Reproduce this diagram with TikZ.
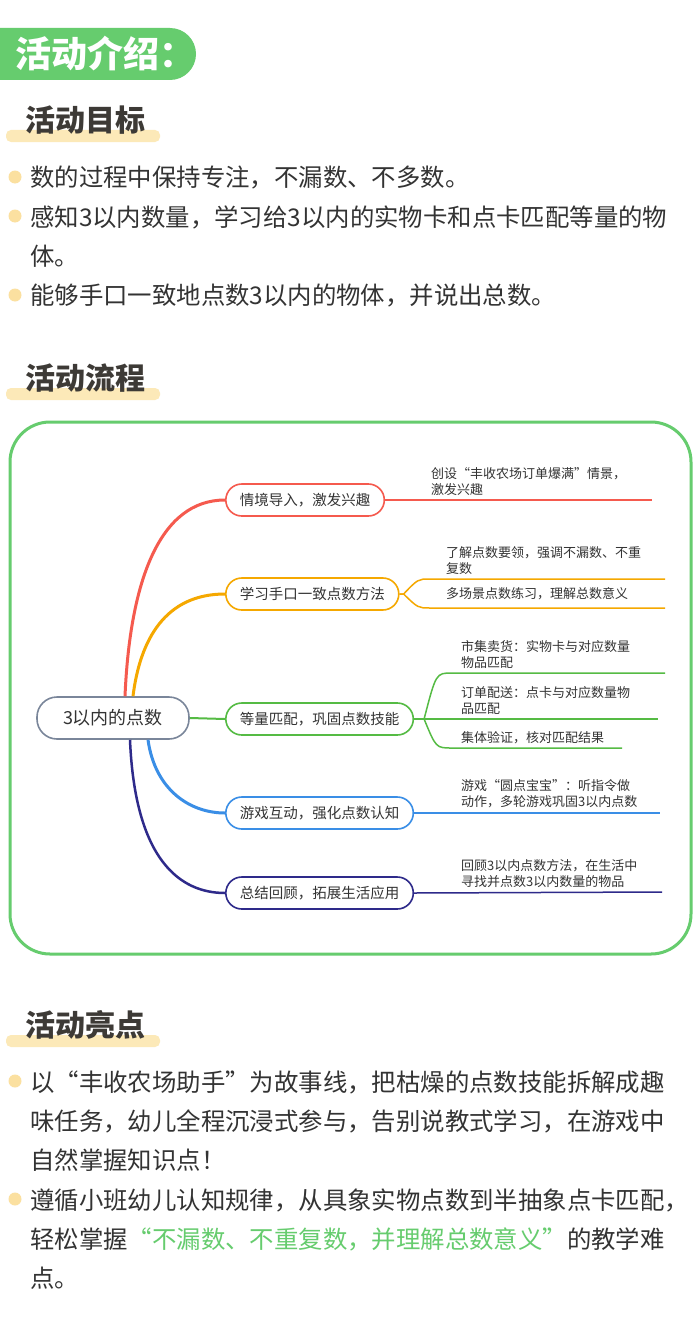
\documentclass[tikz,border=0pt]{standalone}
\usepackage{fontspec}
\setmainfont{Noto Sans CJK SC}
\begin{document}
\begin{tikzpicture}[x=1pt,y=-1pt,
  body/.style={anchor=west,font=\fontsize{24.4}{27}\selectfont,text=txt,inner sep=0pt},
  dot/.style={circle,fill=dotc,minimum size=13pt,inner sep=0pt},
  head/.style={anchor=west,font=\fontsize{30}{32}\selectfont\bfseries,text=headc,inner sep=0pt},
  bar/.style={fill=barc,rounded corners=5pt},
  br/.style={draw=#1,line width=1.6pt,rounded corners=16pt,minimum height=32pt,inner xsep=14pt,anchor=west,font=\fontsize{14.5}{16}\selectfont,text=txt},
  sub/.style={anchor=south west,font=\fontsize{13}{16}\selectfont,text=txt,align=left,inner sep=1pt},
  subm/.style={anchor=west,font=\fontsize{13}{16}\selectfont,text=txt,inner sep=1pt}]
\definecolor{txt}{HTML}{333333}
\definecolor{headc}{HTML}{3D3A36}
\definecolor{dotc}{HTML}{FBE0A0}
\definecolor{barc}{HTML}{FCE9B8}
\definecolor{grn}{HTML}{66CC6E}
\definecolor{cr}{HTML}{F55A4E}
\definecolor{co}{HTML}{F5A800}
\definecolor{cg}{HTML}{55BB44}
\definecolor{cb}{HTML}{3A8EE6}
\definecolor{cn}{HTML}{2E2A8A}
\definecolor{cc}{HTML}{7A869A}
\useasboundingbox (0,0) rectangle (700,1319);
\fill[white] (0,0) rectangle (700,1319);
% header
\fill[grn,rounded corners=26pt] (-40,28) rectangle (196,80);
\node[anchor=west,text=white,font=\fontsize{36}{38}\selectfont\bfseries,inner sep=0pt] (h0) at (15,54) {活动介绍：};
% section 1
\fill[bar] (6,130) rectangle (160,142);
\node[head] (h1) at (25,120) {活动目标};
\node[dot] (d1) at (15,177) {}; \node[body] (t1) at (30,178) {数的过程中保持专注，不漏数、不多数。};
\node[dot] (d2) at (15,216) {}; \node[body] (t2) at (30,217) {感知3以内数量，学习给3以内的实物卡和点卡匹配等量的物};
\node[body] (t2b) at (30,256) {体。};
\node[dot] (d3) at (15,295) {}; \node[body] (t3) at (30,296) {能够手口一致地点数3以内的物体，并说出总数。};
% section 2
\fill[bar] (6,388) rectangle (160,400);
\node[head] (h2) at (25,378) {活动流程};
\draw[grn,line width=3pt,rounded corners=40pt] (10,422) rectangle (691,954);
% mind map
\node[draw=cc,line width=1.6pt,rounded corners=20pt,minimum width=152pt,minimum height=42pt,font=\fontsize{18}{20}\selectfont,text=txt] (root) at (113,718) {3以内的点数};
\node[br=cr] (b1) at (225,500) {情境导入，激发兴趣};
\node[br=co] (b2) at (225,594) {学习手口一致点数方法};
\node[br=cg] (b3) at (225,719) {等量匹配，巩固点数技能};
\node[br=cb] (b4) at (225,813) {游戏互动，强化点数认知};
\node[br=cn] (b5) at (225,893) {总结回顾，拓展生活应用};
\draw[cr,line width=3pt] ([xshift=12pt]root.north) .. controls (130,580) and (160,500) .. (b1.west);
\draw[co,line width=3pt] ([xshift=20pt]root.north) .. controls (140,640) and (165,594) .. (b2.west);
\draw[cg,line width=2pt] (root.east) -- (b3.west);
\draw[cb,line width=3pt] ([xshift=35pt]root.south) .. controls (155,790) and (190,813) .. (b4.west);
\draw[cn,line width=2.5pt] ([xshift=17pt]root.south) .. controls (135,860) and (180,893) .. (b5.west);
% branch 1
\coordinate (e1) at (652,500);
\draw[cr,line width=1.5pt] (b1.east) -- (e1);
\node[sub] (s1) at (430,497) {创设“丰收农场订单爆满”情景，\\激发兴趣};
% branch 2
\coordinate (e2a) at (665,579); \coordinate (e2b) at (665,608);
\draw[co,line width=1.5pt] (b2.east) -- ++(4,0) .. controls (418,579) .. (430,579) -- (e2a);
\draw[co,line width=1.5pt] (b2.east) -- ++(4,0) .. controls (418,608) .. (430,608) -- (e2b);
\node[sub] (s2) at (445,576) {了解点数要领，强调不漏数、不重\\复数};
\node[subm] (s2b) at (445,594) {多场景点数练习，理解总数意义};
% branch 3
\coordinate (e3a) at (665,673); \coordinate (e3b) at (658,719); \coordinate (e3c) at (622,748);
\draw[cg,line width=1.5pt] (b3.east) -- (e3b);
\draw[cg,line width=1.5pt] (b3.east) -- ++(10,0) .. controls (436,673) .. (452,673) -- (e3a);
\draw[cg,line width=1.5pt] (b3.east) -- ++(10,0) .. controls (436,748) .. (452,748) -- (e3c);
\node[sub] (s3a) at (460,670) {市集卖货：实物卡与对应数量\\物品匹配};
\node[sub] (s3b) at (460,716) {订单配送：点卡与对应数量物\\品匹配};
\node[sub] (s3c) at (460,745) {集体验证，核对匹配结果};
% branch 4
\coordinate (e4) at (660,813);
\draw[cb,line width=1.5pt] (b4.east) -- (e4);
\node[sub] (s4) at (460,809) {游戏“圆点宝宝”：听指令做\\动作，多轮游戏巩固3以内点数};
% branch 5
\coordinate (e5) at (662,892);
\draw[cn,line width=1.5pt] (b5.east) -- (e5);
\node[sub] (s5) at (460,889) {回顾3以内点数方法，在生活中\\寻找并点数3以内数量的物品};
% section 3
\fill[bar] (6,1035) rectangle (160,1047);
\node[head] (h3) at (25,1025) {活动亮点};
\node[dot] (d4) at (15,1081) {}; \node[body] (u1) at (30,1082) {以“丰收农场助手”为故事线，把枯燥的点数技能拆解成趣};
\node[body] (u1b) at (30,1121) {味任务，幼儿全程沉浸式参与，告别说教式学习，在游戏中};
\node[body] (u1c) at (30,1160) {自然掌握知识点！};
\node[dot] (d5) at (15,1199) {}; \node[body] (u2) at (30,1200) {遵循小班幼儿认知规律，从具象实物点数到半抽象点卡匹配，};
\node[body] (u2b) at (30,1239) {轻松掌握\textcolor{grn}{“不漏数、不重复数，并理解总数意义”}的教学难};
\node[body] (u2c) at (30,1278) {点。};
\end{tikzpicture}
\end{document}
